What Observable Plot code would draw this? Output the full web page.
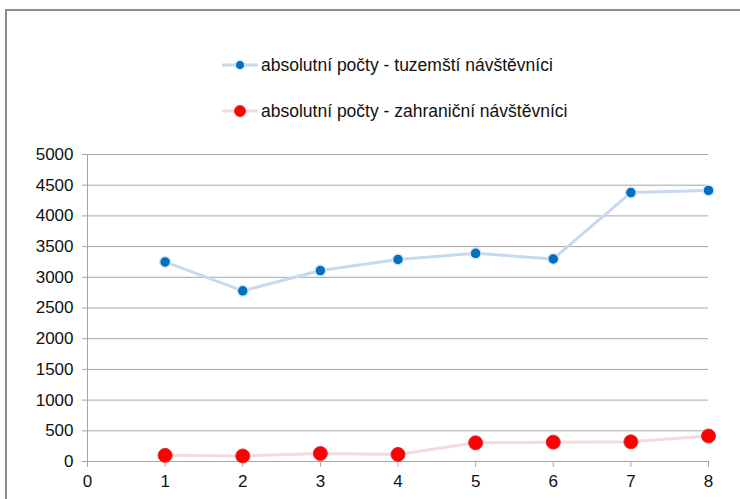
<!DOCTYPE html>
<html>
<head>
<meta charset="utf-8">
<script src="https://cdn.jsdelivr.net/npm/d3@7"></script>
<script src="https://cdn.jsdelivr.net/npm/@observablehq/plot@0.6"></script>
<style>
  html, body { margin: 0; padding: 0; background: #fff; overflow: hidden; width: 740px; height: 499px; }
  body { position: relative; font-family: "Liberation Sans", Arial, sans-serif; }
  #frame { position: absolute; left: 5px; top: 9px; width: 780px; height: 560px; border: 2px solid #8c8c8c; box-sizing: border-box; }
  #legend { position: absolute; left: 0; top: 0; width: 740px; height: 140px; }
  .li { position: absolute; left: 222px; height: 20px; display: flex; align-items: center; font-size: 17.5px; color: #111; white-space: nowrap; }
  .li svg { margin-right: 3px; }
  #chart { position: absolute; left: 0; top: 140px; }
</style>
</head>
<body>
<div id="frame"></div>
<div id="legend"></div>
<div id="chart"></div>
<script>
const periods = [1, 2, 3, 4, 5, 6, 7, 8];
const domestic = [3250, 2780, 3110, 3290, 3390, 3300, 4380, 4415];
const foreign = [100, 90, 130, 115, 305, 315, 320, 415];
const seriesNames = ["absolutní počty - tuzemští návštěvníci", "absolutní počty - zahraniční návštěvníci"];
const xTicks = [0, 1, 2, 3, 4, 5, 6, 7, 8];
const yTicks = [0, 500, 1000, 1500, 2000, 2500, 3000, 3500, 4000, 4500, 5000];

const styles = [
  {line: "#c6d9f1", dot: "#0070c0", halo: "#dbe7f5", r: 5.5},
  {line: "#f2dcdb", dot: "#ff0000", halo: "#e03030", r: 7}
];

// legend
const legend = document.getElementById("legend");
seriesNames.forEach((name, i) => {
  const s = styles[i];
  const row = document.createElement("div");
  row.className = "li";
  row.style.top = (i === 0 ? 55 : 101) + "px";
  row.innerHTML = `<svg width="36" height="14"><line x1="0" x2="36" y1="7" y2="7" stroke="${s.line}" stroke-width="3"/><circle cx="18" cy="7" r="${i===0?4.5:5.5}" fill="${s.dot}" stroke="${s.halo}" stroke-width="1"/></svg><span>${name}</span>`;
  legend.appendChild(row);
});

const data = [];
periods.forEach((p, i) => {
  data.push({x: p, y: domestic[i], s: 0});
  data.push({x: p, y: foreign[i], s: 1});
});
const dom = data.filter(d => d.s === 0);
const fgn = data.filter(d => d.s === 1);

const chart = Plot.plot({
  width: 740,
  height: 359,
  marginLeft: 87,
  marginRight: 32,
  marginTop: 14,
  marginBottom: 38,
  style: {fontFamily: "Liberation Sans, Arial, sans-serif", fontSize: "17px", color: "#111", background: "transparent"},
  x: {domain: [0, 8], ticks: xTicks, label: null},
  y: {domain: [0, 5000], ticks: yTicks, label: null},
  marks: [
    Plot.ruleY(yTicks, {stroke: "#a6a6a6", strokeWidth: 1, strokeOpacity: 1}),
    Plot.ruleX([0], {stroke: "#a6a6a6", strokeWidth: 1}),
    Plot.axisX({ticks: xTicks, tickSize: 6, tickPadding: 7, stroke: "#a6a6a6", tickFormat: d => d, fontSize: 17, label: null}),
    Plot.axisY({ticks: yTicks, tickSize: 5, tickPadding: 9, stroke: "#a6a6a6", tickFormat: d => String(d), fontSize: 17, label: null}),
    Plot.lineY(dom, {x: "x", y: "y", stroke: styles[0].line, strokeWidth: 3}),
    Plot.lineY(fgn, {x: "x", y: "y", stroke: styles[1].line, strokeWidth: 3}),
    Plot.dot(dom, {x: "x", y: "y", r: styles[0].r, fill: styles[0].dot, stroke: styles[0].halo, strokeWidth: 1.5}),
    Plot.dot(fgn, {x: "x", y: "y", r: styles[1].r, fill: styles[1].dot, stroke: styles[1].halo, strokeWidth: 1})
  ]
});
document.getElementById("chart").appendChild(chart);
</script>
</body>
</html>
